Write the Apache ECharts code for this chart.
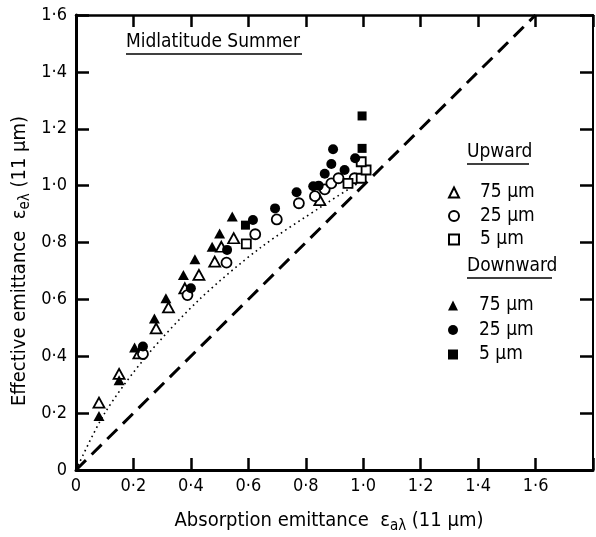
<!DOCTYPE html>
<html><head><meta charset="utf-8">
<script src="https://cdn.jsdelivr.net/npm/echarts@6/dist/echarts.min.js"></script>
<style>html,body{margin:0;padding:0;background:#fff}#c{width:596px;height:537px}</style>
</head><body><div id="c"></div>
<script>
// ---- data ----
const xTicks = [0, 0.2, 0.4, 0.6, 0.8, 1.0, 1.2, 1.4, 1.6];
const yTicks = [0, 0.2, 0.4, 0.6, 0.8, 1.0, 1.2, 1.4, 1.6];
const upward75 = [[0.08,0.237],[0.15,0.338],[0.219,0.41],[0.279,0.498],[0.322,0.572],[0.379,0.639],[0.428,0.686],[0.483,0.733],[0.506,0.785],[0.549,0.815],[0.849,0.949]];
const upward25 = [[0.233,0.408],[0.388,0.615],[0.524,0.729],[0.624,0.829],[0.699,0.881],[0.776,0.938],[0.832,0.963],[0.866,0.987],[0.889,1.008],[0.914,1.026],[0.97,1.026]];
const upward5 = [[0.593,0.795],[0.947,1.008],[0.993,1.026],[1.01,1.055],[0.993,1.084]];
const downward75 = [[0.08,0.19],[0.15,0.316],[0.204,0.431],[0.273,0.533],[0.313,0.604],[0.374,0.686],[0.414,0.741],[0.474,0.785],[0.5,0.832],[0.544,0.891]];
const downward25 = [[0.233,0.434],[0.4,0.639],[0.526,0.774],[0.616,0.879],[0.693,0.92],[0.768,0.977],[0.826,0.998],[0.845,1.0],[0.866,1.042],[0.889,1.076],[0.895,1.128],[0.935,1.055],[0.972,1.096]];
const downward5 = [[0.59,0.861],[0.996,1.131],[0.996,1.245]];
const identityLine = [[0,0],[1.6,1.6]];
const dottedCurve = [[0,0],[0.1,0.2],[0.245,0.4],[0.43,0.6],[0.64,0.78],[0.86,0.93],[1.0,1.02]];
const titleText = 'Midlatitude Summer';
const upwardLabel = 'Upward';
const downwardLabel = 'Downward';

const FONT = '"Liberation Sans Narrow","DejaVu Sans Condensed","DejaVu Sans",sans-serif';
const FS = 19;
function fmt(v){ if (v > 1.65) return ''; if (Math.abs(v) < 1e-9) return '0'; return v.toFixed(1).replace('.', '\u00b7'); }

const chart = echarts.init(document.getElementById('c'), null, {renderer:'canvas'});
const openStyle = {color:'#fff', borderColor:'#000', borderWidth:1.8, opacity:1};
const fillStyle = {color:'#000', opacity:1};
function sc(name, data, symbol, size, style){
  return {name, type:'scatter', data, symbol, symbolSize:size, itemStyle:style, z:3, animation:false};
}
const axisText = {color:'#000', fontFamily:FONT, fontSize:18};
const legendText = {color:'#000', fontFamily:FONT, fontSize:FS, lineHeight:17,
  rich:{t:{fontFamily:FONT, fontSize:FS, lineHeight:17, height:17, padding:[0,0,0,16]}}};
const opt = {
  animation:false,
  backgroundColor:'#fff',
  grid:{left:76, top:15, right:1, bottom:67, containLabel:false},
  xAxis:[{
    type:'value', min:0, max:1.8, interval:0.2, position:'bottom',
    axisLine:{show:true, onZero:false, lineStyle:{color:'#000', width:3}},
    axisTick:{show:true, inside:true, length:12, lineStyle:{color:'#000', width:2.5}},
    axisLabel:{formatter:fmt, margin:7, ...axisText},
    splitLine:{show:false}
  },{
    type:'value', min:0, max:1.8, interval:0.2, position:'top',
    axisLine:{show:true, onZero:false, lineStyle:{color:'#000', width:2.5}},
    axisTick:{show:true, inside:true, length:12, lineStyle:{color:'#000', width:2.5}},
    axisLabel:{show:false}, splitLine:{show:false}
  }],
  yAxis:[{
    type:'value', min:0, max:1.6, interval:0.2, position:'left',
    axisLine:{show:true, onZero:false, lineStyle:{color:'#000', width:3}},
    axisTick:{show:true, inside:true, length:13, lineStyle:{color:'#000', width:2.5}},
    axisLabel:{formatter:v => Math.abs(v) < 1e-9 ? '0' : v.toFixed(1).replace('.', '\u00b7'), margin:9, ...axisText},
    splitLine:{show:false}
  },{
    type:'value', min:0, max:1.6, interval:0.2, position:'right',
    axisLine:{show:true, onZero:false, lineStyle:{color:'#000', width:2}},
    axisTick:{show:true, inside:true, length:13, lineStyle:{color:'#000', width:2.5}},
    axisLabel:{show:false}, splitLine:{show:false}
  }],
  legend:[{
    data:['U|75 \u03bcm','U|25 \u03bcm','U|5 \u03bcm'],
    orient:'vertical', left:448, top:183, padding:0, itemGap:4.5,
    itemWidth:10, itemHeight:10,
    formatter:n => '{t|' + n.split('|')[1] + '}',
    textStyle:legendText, selectedMode:false
  },{
    data:['D|75 \u03bcm','D|25 \u03bcm','D|5 \u03bcm'],
    orient:'vertical', left:448, top:296, padding:0, itemGap:5.5,
    itemWidth:10, itemHeight:10,
    formatter:n => '{t|' + n.split('|')[1] + '}',
    textStyle:legendText, selectedMode:false
  }],
  series:[
    {name:'identity', type:'line', data:identityLine, showSymbol:false, symbol:'none', z:2,
     lineStyle:{color:'#000', width:3, type:[14,8]}, animation:false},
    {name:'curve', type:'line', data:dottedCurve, smooth:0.3, showSymbol:false, symbol:'none', z:2,
     lineStyle:{color:'#000', width:1.6, type:[1.6,3.6]}, animation:false},
    sc('U|75 \u03bcm', upward75, 'triangle', [11,10], openStyle),
    sc('U|25 \u03bcm', upward25, 'circle', 10, openStyle),
    sc('U|5 \u03bcm', upward5, 'rect', 9, openStyle),
    sc('D|75 \u03bcm', downward75, 'triangle', [11,10], fillStyle),
    sc('D|25 \u03bcm', downward25, 'circle', 10, fillStyle),
    sc('D|5 \u03bcm', downward5, 'rect', 9, fillStyle)
  ],
  graphic:[
    {type:'text', left:126, top:33, style:{text:titleText, font:FS + 'px ' + FONT, fill:'#000'}},
    {type:'line', shape:{x1:126, y1:54, x2:302, y2:54}, style:{stroke:'#000', lineWidth:1.5}},
    {type:'text', left:467, top:143, style:{text:upwardLabel, font:FS + 'px ' + FONT, fill:'#000'}},
    {type:'line', shape:{x1:467, y1:164, x2:529, y2:164}, style:{stroke:'#000', lineWidth:1.5}},
    {type:'text', left:467, top:257, style:{text:downwardLabel, font:FS + 'px ' + FONT, fill:'#000'}},
    {type:'line', shape:{x1:467, y1:278, x2:552, y2:278}, style:{stroke:'#000', lineWidth:1.5}},
    {type:'text', x:329, y:521, style:{
      text:'Absorption emittance  \u03b5{s|a\u03bb} (11 \u03bcm)', font:'20px ' + FONT, fill:'#000',
      align:'center', verticalAlign:'middle',
      rich:{s:{fontFamily:FONT, fontSize:15, padding:[10,0,0,0]}}}},
    {type:'text', x:20, y:261, rotation:Math.PI/2, style:{
      text:'Effective emittance  \u03b5{s|e\u03bb} (11 \u03bcm)', font:'20px ' + FONT, fill:'#000',
      align:'center', verticalAlign:'middle',
      rich:{s:{fontFamily:FONT, fontSize:15, padding:[10,0,0,0]}}}}
  ]
};
chart.setOption(opt);
</script>
</body></html>
